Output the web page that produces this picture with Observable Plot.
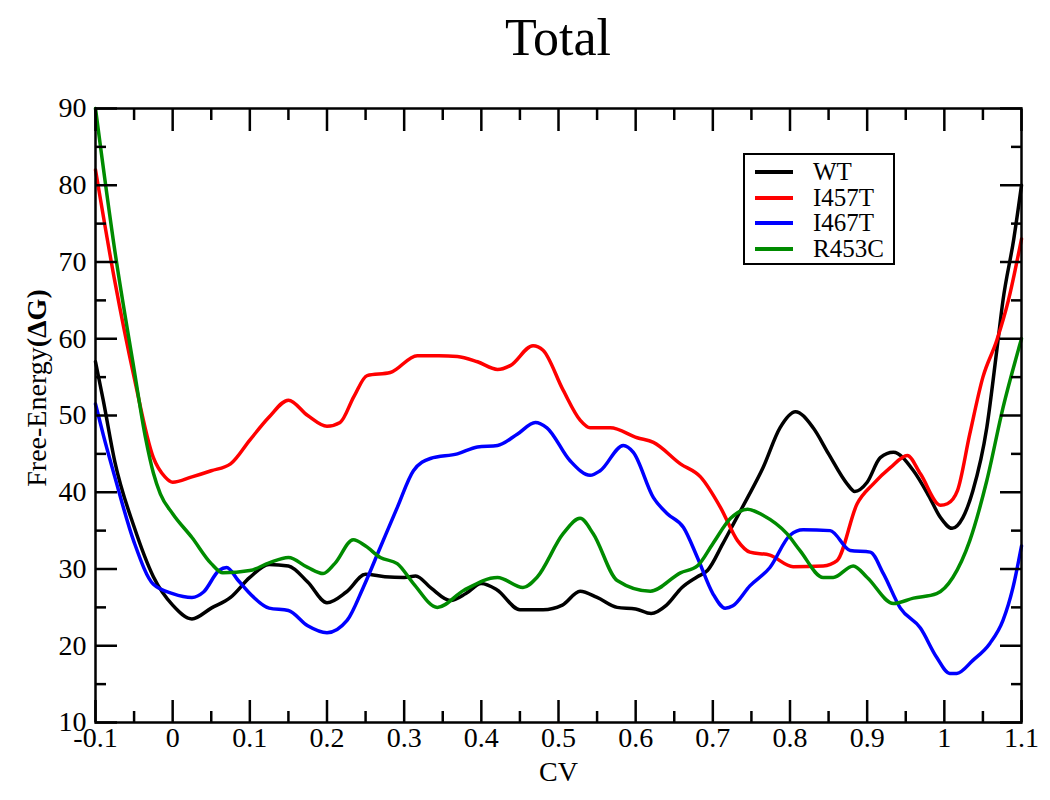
<!DOCTYPE html>
<html>
<head>
<meta charset="utf-8">
<script src="https://cdn.jsdelivr.net/npm/d3@7"></script>
<script src="https://cdn.jsdelivr.net/npm/@observablehq/plot@0.6"></script>
<style>
  body { margin: 0; background: #fff; }
  #wrap { position: relative; width: 1050px; height: 800px; font-family: "Liberation Serif", "DejaVu Serif", serif; color: #000; }
  #title { position: absolute; left: 0; width: 1050px; top: 12px; text-align: center; font-size: 52px; line-height: 52px; padding-left: 66px; box-sizing: border-box; }
  #chart { position: absolute; left: 0; top: 80px; }
  #ylabel { position: absolute; font-size: 28px; white-space: nowrap; transform-origin: center center; }
  #legend { position: absolute; left: 743px; top: 153px; width: 148px; height: 108px; border: 2px solid #000; background: #fff; }
  .row { position: absolute; left: 0; height: 24px; width: 148px; font-size: 25px; line-height: 24px; }
  .sw { position: absolute; left: 10px; top: 10px; width: 38px; height: 4px; }
  .lb { position: absolute; left: 68px; top: 0; height: 24px; line-height: 24px; }
</style>
</head>
<body>
<div id="wrap">
  <div id="title">Total</div>
  <div id="chart"></div>
  <div id="ylabel">Free-Energy<b>(ΔG)</b></div>
  <div id="legend"></div>
</div>
<script>
// ---- Data ----
const seriesNames = ["WT", "I457T", "I467T", "R453C"];
const seriesColors = ["#000000", "#ff0000", "#0000ff", "#008b00"];

const wtX = [-0.1, -0.09, -0.075, -0.05, -0.025, 0, 0.025, 0.05, 0.075, 0.1, 0.125, 0.15, 0.175, 0.2, 0.225, 0.25, 0.275, 0.3, 0.315, 0.335, 0.36, 0.38, 0.4, 0.42, 0.45, 0.48, 0.505, 0.528, 0.55, 0.576, 0.6, 0.62, 0.64, 0.66, 0.68, 0.693, 0.713, 0.73, 0.745, 0.765, 0.787, 0.807, 0.83, 0.85, 0.874, 0.884, 0.9, 0.917, 0.934, 0.96, 0.98, 0.995, 1.01, 1.024, 1.037, 1.055, 1.068, 1.076, 1.09, 1.1];
const wtY = [57, 52, 44, 35.5, 29, 25.3, 23.5, 24.9, 26.3, 28.9, 30.6, 30.4, 28.3, 25.6, 27, 29.3, 29, 28.9, 29.1, 27.5, 25.9, 26.8, 28.1, 27.3, 24.7, 24.7, 25.3, 27.1, 26.3, 25, 24.8, 24.2, 25.3, 27.6, 29, 29.8, 33.3, 36.5, 39.3, 43.2, 48.4, 50.5, 48.4, 45, 41.1, 40.1, 41.3, 44.5, 45.2, 42.8, 39.5, 36.7, 35.3, 36.7, 40.2, 48.4, 58.5, 65, 73, 80];

const i457X = [-0.1, -0.075, -0.05, -0.025, -0.01, 0, 0.025, 0.05, 0.075, 0.1, 0.125, 0.15, 0.175, 0.2, 0.217, 0.235, 0.252, 0.282, 0.317, 0.345, 0.369, 0.395, 0.421, 0.4375, 0.467, 0.48, 0.506, 0.528, 0.541, 0.567, 0.602, 0.623, 0.658, 0.684, 0.71, 0.732, 0.748, 0.774, 0.804, 0.843, 0.861, 0.887, 0.908, 0.93, 0.952, 0.969, 0.995, 1.004, 1.017, 1.033, 1.05, 1.068, 1.083, 1.1];
const i457Y = [82, 67.5, 55, 44.5, 42, 41.3, 42, 42.8, 43.7, 46.8, 49.8, 52, 50, 48.6, 49.1, 52.5, 55.2, 55.6, 57.8, 57.8, 57.7, 57, 56, 56.5, 59.1, 58.5, 53.3, 49.4, 48.4, 48.4, 47.1, 46.5, 43.7, 42, 38, 33.7, 32.2, 31.8, 30.3, 30.4, 31.1, 38.5, 41.1, 43.2, 44.8, 42.4, 38.3, 38.5, 40.2, 47.6, 55, 59.8, 65, 73];

const i467X = [-0.1, -0.09, -0.075, -0.05, -0.025, 0, 0.025, 0.04, 0.06, 0.07, 0.085, 0.1, 0.125, 0.15, 0.175, 0.2, 0.226, 0.247, 0.269, 0.291, 0.312, 0.334, 0.369, 0.395, 0.421, 0.447, 0.47, 0.485, 0.515, 0.541, 0.554, 0.584, 0.597, 0.623, 0.641, 0.662, 0.68, 0.7, 0.716, 0.726, 0.748, 0.774, 0.8, 0.817, 0.852, 0.878, 0.904, 0.921, 0.943, 0.969, 0.99, 1.007, 1.016, 1.037, 1.059, 1.076, 1.089, 1.1];
const i467Y = [51.5, 47.5, 42, 33.5, 28, 26.8, 26.3, 27, 29.8, 30.2, 28.5, 26.8, 24.9, 24.6, 22.6, 21.7, 23.3, 27.6, 32.8, 38, 42.8, 44.4, 45, 45.9, 46.1, 47.6, 49.1, 48.4, 44.1, 42.2, 42.8, 46.1, 45.2, 39.3, 37.2, 35.4, 31.5, 26.8, 24.9, 25.2, 27.8, 30.2, 34.4, 35.1, 35, 32.4, 32.2, 29.4, 24.9, 22.3, 18.5, 16.4, 16.4, 18.1, 20.3, 23.3, 27.6, 33];

const r453X = [-0.1, -0.075, -0.05, -0.035, -0.025, -0.016, 0, 0.025, 0.05, 0.065, 0.1, 0.125, 0.15, 0.175, 0.195, 0.21, 0.234, 0.25, 0.269, 0.291, 0.312, 0.343, 0.377, 0.421, 0.454, 0.472, 0.506, 0.528, 0.545, 0.576, 0.619, 0.658, 0.68, 0.7, 0.723, 0.745, 0.765, 0.796, 0.813, 0.843, 0.856, 0.882, 0.9, 0.934, 0.96, 0.99, 1.011, 1.033, 1.055, 1.076, 1.1];
const r453Y = [90, 71.5, 56, 47, 42.5, 39.8, 37.2, 34.1, 30.7, 29.5, 29.8, 30.8, 31.5, 30.2, 29.4, 30.7, 33.8, 33, 31.5, 30.7, 28.1, 25, 27.2, 28.9, 27.6, 28.9, 34.6, 36.6, 34.6, 28.5, 27.1, 29.5, 30.4, 33.3, 36.6, 37.8, 37, 34.6, 32.4, 28.9, 28.9, 30.4, 28.9, 25.5, 26.2, 26.8, 28.9, 33.7, 41.5, 51, 60];

const xMajor = [-0.1, 0, 0.1, 0.2, 0.3, 0.4, 0.5, 0.6, 0.7, 0.8, 0.9, 1, 1.1];
const xTickLabels = ["-0.1", "0", "0.1", "0.2", "0.3", "0.4", "0.5", "0.6", "0.7", "0.8", "0.9", "1", "1.1"];
const xMinor = [-0.05, 0.05, 0.15, 0.25, 0.35, 0.45, 0.55, 0.65, 0.75, 0.85, 0.95, 1.05];
const yMajor = [10, 20, 30, 40, 50, 60, 70, 80, 90];
const yTickLabels = ["10", "20", "30", "40", "50", "60", "70", "80", "90"];
const yMinor = [15, 25, 35, 45, 55, 65, 75, 85];

// ---- Build rows ----
const seriesXs = [wtX, i457X, i467X, r453X];
const seriesYs = [wtY, i457Y, i467Y, r453Y];
const rows = [];
seriesNames.forEach((name, s) => {
  seriesXs[s].forEach((x, i) => rows.push({series: name, x, y: seriesYs[s][i]}));
});

const MAJ = 22, MIN = 11, TW = 2.5;
const tickOpts = {tickFormat: () => "", label: null, strokeWidth: TW};

const chart = Plot.plot({
  width: 1050,
  height: 720,
  marginLeft: 95,
  marginRight: 29,
  marginTop: 28,
  marginBottom: 78,
  style: {fontFamily: "Liberation Serif, DejaVu Serif, serif", fontSize: "28px", color: "#000", background: "#fff"},
  x: {domain: [-0.1, 1.1]},
  y: {domain: [10, 90]},
  color: {domain: seriesNames, range: seriesColors},
  marks: [
    Plot.line(rows, {x: "x", y: "y", z: "series", stroke: "series", strokeWidth: 3.5, curve: "monotone-x"}),
    // inward major/minor ticks on all four sides
    Plot.axisX(xMajor, {anchor: "bottom", tickSize: MAJ, dy: -MAJ, ...tickOpts}),
    Plot.axisX(xMinor, {anchor: "bottom", tickSize: MIN, dy: -MIN, ...tickOpts}),
    Plot.axisX(xMajor, {anchor: "top", tickSize: MAJ, dy: MAJ, ...tickOpts}),
    Plot.axisX(xMinor, {anchor: "top", tickSize: MIN, dy: MIN, ...tickOpts}),
    Plot.axisY(yMajor, {anchor: "left", tickSize: MAJ, dx: MAJ, ...tickOpts}),
    Plot.axisY(yMinor, {anchor: "left", tickSize: MIN, dx: MIN, ...tickOpts}),
    Plot.axisY(yMajor, {anchor: "right", tickSize: MAJ, dx: -MAJ, ...tickOpts}),
    Plot.axisY(yMinor, {anchor: "right", tickSize: MIN, dx: -MIN, ...tickOpts}),
    // tick labels
    Plot.axisX(xMajor, {anchor: "bottom", tickSize: 0, tickPadding: 5, fontSize: 28,
      tickFormat: (d, i) => xTickLabels[i],
      label: "CV", labelAnchor: "center", labelArrow: "none", labelOffset: 58}),
    Plot.axisY(yMajor, {anchor: "left", tickSize: 0, tickPadding: 9, fontSize: 28,
      tickFormat: (d, i) => yTickLabels[i], label: null}),
    Plot.frame({stroke: "#000", strokeWidth: 2.5})
  ]
});
document.getElementById("chart").appendChild(chart);

// y label (rotated, with bold ΔG)
const yl = document.getElementById("ylabel");
const w = yl.offsetWidth, h = yl.offsetHeight;
yl.style.left = (36 - w / 2) + "px";
yl.style.top = (388 - h / 2) + "px";
yl.style.transform = "rotate(-90deg)";

// legend
const leg = document.getElementById("legend");
seriesNames.forEach((name, i) => {
  const r = document.createElement("div");
  r.className = "row";
  r.style.top = (5 + i * 25.7) + "px";
  r.innerHTML = `<div class="sw" style="background:${seriesColors[i]}"></div><div class="lb">${name}</div>`;
  leg.appendChild(r);
});
</script>
</body>
</html>
